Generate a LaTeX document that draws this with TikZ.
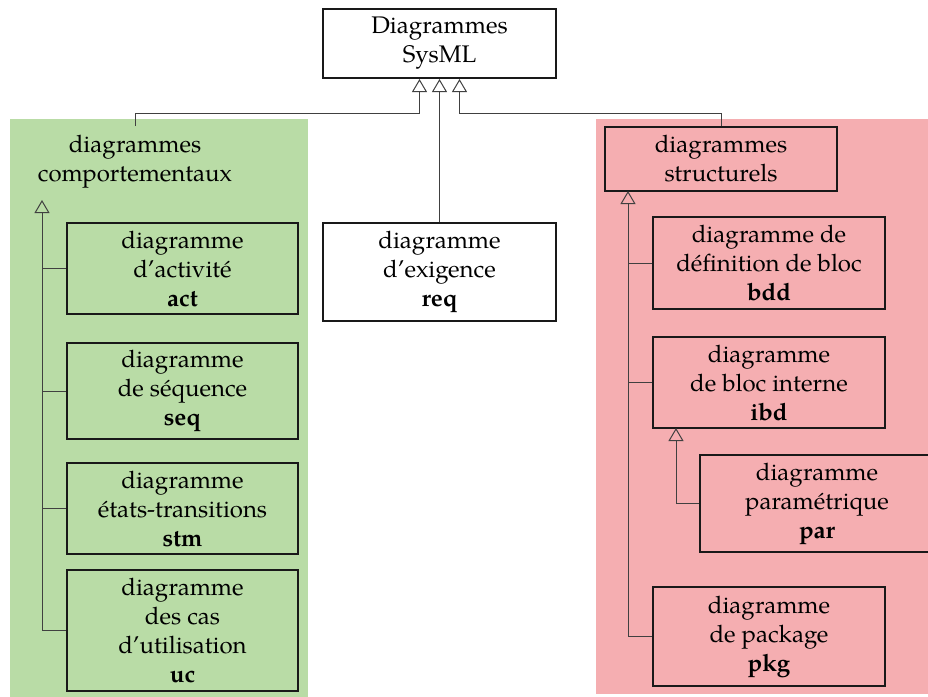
\documentclass[tikz,border=0pt]{standalone}
\usepackage{fontspec}
\setmainfont{texgyrepagella}[Extension=.otf,UprightFont=*-regular,BoldFont=*-bold,ItalicFont=*-italic,BoldItalicFont=*-bolditalic]
\usetikzlibrary{arrows.meta}
\definecolor{vert}{HTML}{B9DCA6}
\definecolor{rose}{HTML}{F5AEB1}
\definecolor{trait}{HTML}{404040}
\begin{document}
\begin{tikzpicture}[x=0.5pt,y=-0.5pt,
  box/.style={draw=black!90,line width=1pt,align=center,inner sep=0pt,font=\fontsize{12}{14.5}\selectfont},
  plain/.style={align=center,inner sep=0pt,font=\fontsize{12}{14.5}\selectfont},
  gen/.style={draw=trait,line width=0.5pt,-{Triangle[open,width=7.5pt,length=6.5pt,line width=0.5pt]}},
  lnk/.style={draw=trait,line width=0.5pt}]
\useasboundingbox (0,0) rectangle (928,697);
\clip (0,0) rectangle (928,697);
\fill[vert] (10,119) rectangle (308,697);
\fill[rose] (596,119) rectangle (928,694);
% top
\node[box,minimum width=116.5pt,minimum height=34.5pt] (top) at (439.5,43.5) {Diagrammes\\SysML};
% behavioural
\node[plain,minimum width=116pt,minimum height=35pt] (comp) at (135,161.5) {\raisebox{0pt}[\height][\depth]{}diagrammes\\comportementaux};
\node[box,minimum width=115.5pt,minimum height=45.5pt] (act) at (182.5,268.5) {diagramme\\d'activité\\\textbf{act}};
\node[box,minimum width=115.5pt,minimum height=48pt] (seq) at (182.5,391) {diagramme\\de séquence\\\textbf{seq}};
\node[box,minimum width=115.5pt,minimum height=45.5pt] (stm) at (182.5,508.5) {diagramme\\états-transitions\\\textbf{stm}};
\node[box,minimum width=115.5pt,minimum height=60.5pt] (uc) at (182.5,630.5) {diagramme\\des cas\\d'utilisation\\\textbf{uc}};
% requirement
\node[box,minimum width=116.5pt,minimum height=49pt] (req) at (439.5,272) {diagramme\\d'exigence\\\textbf{req}};
% structural
\node[box,minimum width=116pt,minimum height=32pt] (struct) at (721,159) {diagrammes\\structurels};
\node[box,minimum width=116pt,minimum height=46pt] (bdd) at (769,263) {diagramme de\\définition de bloc\\\textbf{bdd}};
\node[box,minimum width=116pt,minimum height=45.5pt] (ibd) at (769,382.5) {diagramme\\de bloc interne\\\textbf{ibd}};
\node[box,minimum width=117pt,minimum height=48.5pt] (par) at (817,503.5) {diagramme\\paramétrique\\\textbf{par}};
\node[box,minimum width=116pt,minimum height=49.5pt] (pkg) at (769,636.5) {diagramme\\de package\\\textbf{pkg}};
% connector anchors
\coordinate (gtip) at (42,200);
\coordinate (stip) at (628,191);
\coordinate (itip) at (676,428);
% to top
\draw[gen] (comp.north) -- ++(0,-13) -| ([xshift=-10pt]top.south);
\draw[gen] (req.north) -- (top.south);
\draw[gen] (struct.north) -- ++(0,-13) -| ([xshift=10pt]top.south);
% behavioural tree
\draw[gen] (uc.west) -| (gtip);
\draw[lnk] (act.west) -- (act.west -| gtip);
\draw[lnk] (seq.west) -- (seq.west -| gtip);
\draw[lnk] (stm.west) -- (stm.west -| gtip);
% structural tree
\draw[gen] (pkg.west) -| (stip);
\draw[lnk] (bdd.west) -- (bdd.west -| stip);
\draw[lnk] (ibd.west) -- (ibd.west -| stip);
\draw[gen] (par.west) -| (itip);
\end{tikzpicture}
\end{document}
